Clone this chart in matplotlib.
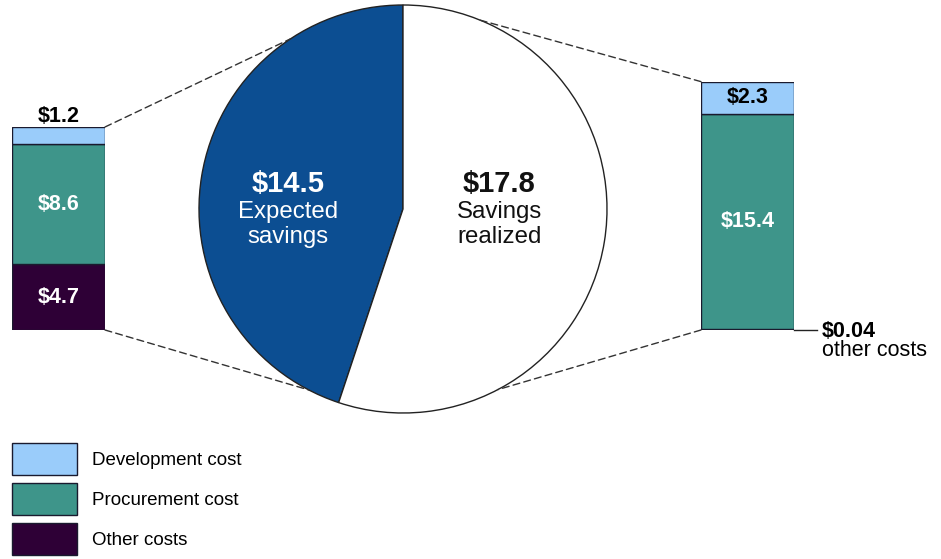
import numpy as np
import matplotlib
matplotlib.use("Agg")
import matplotlib.pyplot as plt
from matplotlib.patches import ConnectionPatch, Patch

plt.rcParams['font.family'] = ['Liberation Sans', 'DejaVu Sans']

# ---- data ----
pie_values = [14.5, 17.8]
pie_titles = ["$14.5", "$17.8"]
pie_subtitles = [["Expected", "savings"], ["Savings", "realized"]]

cost_names = ["Other costs", "Procurement cost", "Development cost"]
left_costs = [4.7, 8.6, 1.2]
right_costs = [0.04, 15.4, 2.3]
left_labels = ["$4.7", "$8.6", "$1.2"]
right_labels = ["$0.04", "$15.4", "$2.3"]

pie_colors = ["#0C4E92", "#FFFFFF"]
cost_colors = ["#2E0036", "#3E958A", "#9ACCFA"]
edge = "#1a1a2e"

W, H = 941, 559
fig = plt.figure(figsize=(W / 100, H / 100), dpi=100)

def ax_px(x0, y0, w, h):
    return fig.add_axes([x0 / W, 1 - (y0 + h) / H, w / W, h / H])

px_per_unit = 14.0
bfs = 15.5  # bar label font size

# ---- pie ----
cx, cy, r = 403, 209, 204
axP = ax_px(cx - r, cy - r, 2 * r, 2 * r)
axP.pie(pie_values, colors=pie_colors, startangle=90, counterclock=True,
        radius=1, wedgeprops=dict(edgecolor="#222222", linewidth=1.0))
axP.set_xlim(-1, 1)
axP.set_ylim(-1, 1)
axP.set_aspect("equal")
axP.axis("off")

for xc, title, subs, col in [(-0.564, pie_titles[0], pie_subtitles[0], "white"),
                             (0.471, pie_titles[1], pie_subtitles[1], "#111111")]:
    axP.text(xc, 0.083, title, color=col, fontsize=21, fontweight="bold",
             ha="center", va="baseline")
    axP.text(xc, -0.044, subs[0], color=col, fontsize=17.3, ha="center", va="baseline")
    axP.text(xc, -0.167, subs[1], color=col, fontsize=17.3, ha="center", va="baseline")

# ---- stacked bars ----
def stacked(x0, bottom_px, values):
    total = sum(values)
    h = total * px_per_unit
    ax = ax_px(x0, bottom_px - h, 93, h)
    b = 0
    for v, c in zip(values, cost_colors):
        ax.bar(0, v, bottom=b, width=1.0, color=c, edgecolor=edge, linewidth=1.0)
        b += v
    ax.set_xlim(-0.5, 0.5)
    ax.set_ylim(0, total)
    ax.axis("off")
    return ax, total

axL, totL = stacked(12, 330, left_costs)
axR, totR = stacked(701, 330, right_costs)

# left labels
axL.text(0, left_costs[0] / 2, left_labels[0], color="white", fontsize=bfs,
         fontweight="bold", ha="center", va="center")
axL.text(0, left_costs[0] + left_costs[1] / 2, left_labels[1], color="white", fontsize=bfs,
         fontweight="bold", ha="center", va="center")
axL.text(0, totL + 0.75, left_labels[2], color="black", fontsize=bfs,
         fontweight="bold", ha="center", va="center", clip_on=False)

# right labels
axR.text(0, right_costs[0] + right_costs[1] / 2, right_labels[1], color="white", fontsize=bfs,
         fontweight="bold", ha="center", va="center")
axR.text(0, right_costs[0] + right_costs[1] + right_costs[2] / 2, right_labels[2],
         color="black", fontsize=bfs, fontweight="bold", ha="center", va="center")
axR.plot([0.5, 0.75], [0.02, 0.02], color="#222222", lw=1.0, clip_on=False)
axR.text(0.80, -0.1, right_labels[0], color="black", fontsize=bfs, fontweight="bold",
         ha="left", va="center", clip_on=False)
axR.text(0.80, -1.5, "other costs", color="black", fontsize=bfs,
         ha="left", va="center", clip_on=False)

# ---- dashed connectors ----
def conn(axB, xyB, ang):
    a = np.deg2rad(ang)
    cp = ConnectionPatch(xyA=xyB, coordsA=axB.transData,
                         xyB=(np.cos(a), np.sin(a)), coordsB=axP.transData,
                         linestyle=(0, (5, 3)), color="#333333", lw=1.0)
    fig.add_artist(cp)

conn(axL, (0.5, totL), 123.5)
conn(axL, (0.5, 0), 242.5)
conn(axR, (-0.5, totR), 67.8)
conn(axR, (-0.5, 0), -62.3)

# ---- legend ----
handles = [Patch(facecolor=cost_colors[i], edgecolor=edge, linewidth=1.0)
           for i in [2, 1, 0]]
names = [cost_names[i] for i in [2, 1, 0]]
fs = 13.5
fpx = fs * 100 / 72
hh = (32 / fpx - 0.245) / 0.65
fig.legend(handles, names, loc="upper left",
           bbox_to_anchor=(12 / W, 1 - 443 / H), borderaxespad=0, borderpad=0,
           frameon=False, fontsize=fs,
           handlelength=65 / fpx, handleheight=hh,
           labelspacing=8 / fpx, handletextpad=15 / fpx)

fig.savefig("out.png", dpi=100)
